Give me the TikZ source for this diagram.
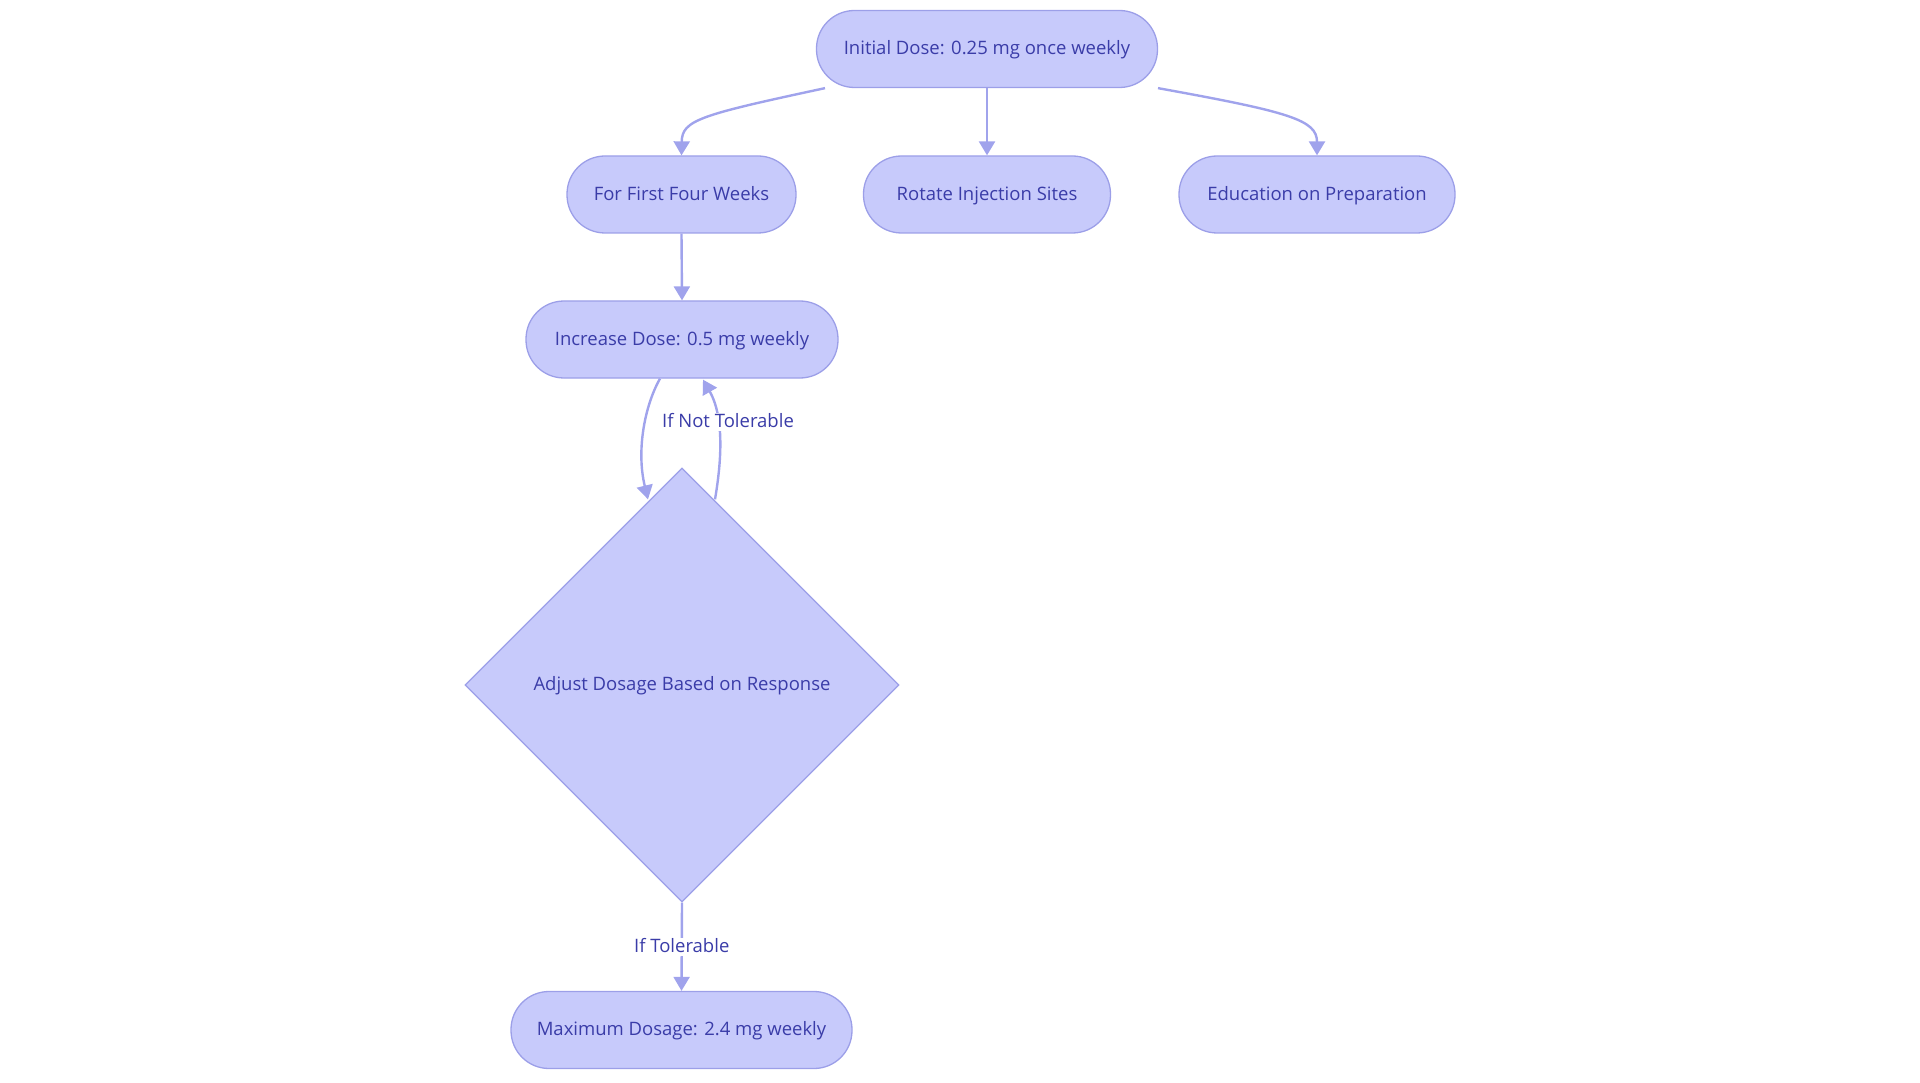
\documentclass[tikz,border=0pt]{standalone}
\usepackage{fontspec}
\setmainfont{Open Sans}
\usetikzlibrary{shapes.geometric,arrows.meta,calc}
\definecolor{nfill}{RGB}{199,202,251}
\definecolor{nline}{RGB}{156,159,232}
\definecolor{ntext}{RGB}{58,60,168}
\definecolor{eline}{RGB}{160,163,236}
\begin{document}
\begin{tikzpicture}[x=1pt,y=-1pt,
  txt/.style={text=ntext,font=\fontsize{18.5}{22}\selectfont,text height=1.26em,text depth=0.116em},
  box/.style={txt,draw=nline,fill=nfill,line width=1.3pt,rounded corners=38pt,minimum height=77pt,inner sep=0pt},
  dmd/.style={txt,diamond,aspect=1,draw=nline,fill=nfill,line width=1.3pt,minimum width=434pt,minimum height=434pt,inner sep=0pt},
  edge/.style={draw=eline,line width=2.4pt,-{Triangle[length=14pt,width=16pt]}},
  elabel/.style={txt,fill=white,inner sep=2pt}]
\useasboundingbox (0,0) rectangle (1920,1083);
\node[box,minimum width=341pt] (top) at (987,49) {Initial Dose: 0.25 mg once weekly};
\node[box,minimum width=229pt] (ffw) at (681.5,194.5) {For First Four Weeks};
\node[box,minimum width=247pt] (rot) at (987,194.5) {Rotate Injection Sites};
\node[box,minimum width=276pt] (edu) at (1317,194.5) {Education on Preparation};
\node[box,minimum width=312pt] (inc) at (682,339.5) {Increase Dose: 0.5 mg weekly};
\node[dmd] (dia) at (682,685) {Adjust Dosage Based on Response};
\node[box,minimum width=341pt] (max) at (681.5,1030) {Maximum Dosage: 2.4 mg weekly};

\draw[edge] ([xshift=-162pt]top.south) .. controls (700,115) and (682,120) .. (ffw.north);
\draw[edge] (top.south) -- (rot.north);
\draw[edge] ([xshift=171pt]top.south) .. controls (1290,112) and (1317,120) .. (edu.north);
\draw[edge] (ffw.south) -- (inc.north);
\draw[edge] ([xshift=-22pt]inc.south) .. controls (645,405) and (636,450) .. ([shift={(-34,32)}]dia.north);
\draw[edge] ([shift={(33,32)}]dia.north) .. controls (720,470) and (726,420) .. ([xshift=21pt,yshift=-1pt]inc.south);
\node[elabel] (lnt) at (728,422) {If Not Tolerable};
\draw[edge] (dia.south) -- node[elabel] (lt) {If Tolerable} (max.north);
\end{tikzpicture}
\end{document}
